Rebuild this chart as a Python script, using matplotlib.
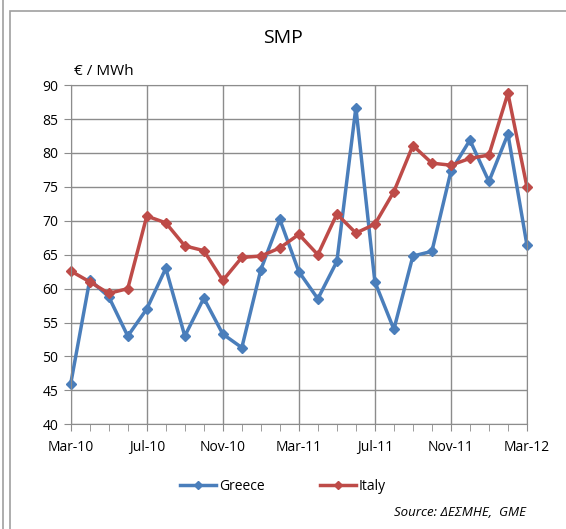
import matplotlib
matplotlib.use('Agg')
import matplotlib.pyplot as plt
from matplotlib.patches import Rectangle
from matplotlib.lines import Line2D

plt.rcParams['font.family'] = ['Open Sans', 'DejaVu Sans']

months = ['Mar-10', 'Apr-10', 'May-10', 'Jun-10', 'Jul-10', 'Aug-10', 'Sep-10', 'Oct-10',
          'Nov-10', 'Dec-10', 'Jan-11', 'Feb-11', 'Mar-11', 'Apr-11', 'May-11', 'Jun-11',
          'Jul-11', 'Aug-11', 'Sep-11', 'Oct-11', 'Nov-11', 'Dec-11', 'Jan-12', 'Feb-12', 'Mar-12']
greece = [46.0, 61.3, 58.8, 53.0, 57.0, 63.0, 53.0, 58.6, 53.3, 51.3, 62.8, 70.2, 62.5,
          58.5, 64.0, 86.7, 61.0, 54.0, 64.8, 65.5, 77.3, 81.9, 75.8, 82.8, 66.4]
italy = [62.6, 61.0, 59.3, 60.0, 70.7, 69.7, 66.3, 65.6, 61.2, 64.6, 64.8, 66.0, 68.0,
         65.0, 71.0, 68.2, 69.5, 74.3, 81.1, 78.5, 78.2, 79.2, 79.7, 88.8, 75.0]

blue = '#4A7EBB'
red = '#BE4B48'

fig = plt.figure(figsize=(5.66, 5.29), dpi=100)
ax = fig.add_axes([0.125, 0.198, 0.806, 0.641])

x = list(range(len(months)))
ax.plot(x, greece, color=blue, lw=2.5, marker='D', ms=5, label='Greece', clip_on=False)
ax.plot(x, italy, color=red, lw=2.5, marker='D', ms=5, label='Italy', clip_on=False)

ax.set_xlim(0, len(months) - 1)
ax.set_ylim(40, 90)
ax.set_yticks(range(40, 91, 5))
ax.set_xticks(x[::4])
ax.set_xticklabels(months[::4])
ax.set_xticks(x, minor=True)
ax.grid(True, color='#8c8c8c', lw=1)
ax.set_axisbelow(True)
for s in ax.spines.values():
    s.set_color('#8c8c8c')
ax.tick_params(axis='both', which='both', color='#8c8c8c', direction='out', labelsize=10, pad=4)
ax.tick_params(axis='x', which='major', length=5, pad=6)
ax.tick_params(axis='x', which='minor', length=5)
ax.tick_params(axis='y', length=5)

fig.text(0.5, 0.928, 'SMP', ha='center', va='center', fontsize=14)
fig.text(0.13, 0.864, '€ / MWh', ha='left', va='center', fontsize=11)

handles = [Line2D([0], [0], color=blue, lw=2.5, marker='D', ms=4),
           Line2D([0], [0], color=red, lw=2.5, marker='D', ms=4)]
fig.legend(handles, ['Greece', 'Italy'], loc='center', bbox_to_anchor=(0.5, 0.08),
           ncol=2, frameon=False, fontsize=10, handlelength=2.6, handletextpad=0.2,
           columnspacing=4)
fig.text(0.93, 0.032, 'Source: ΔΕΣΜΗΕ,  GME', ha='right', va='center', fontsize=9.5,
         style='italic')

# chart frame
fig.patches.append(Rectangle((0.018, -0.02), 1.1, 1.0, transform=fig.transFigure,
                             fill=False, ec='#a0a0a0', lw=1.2))
fig.add_artist(Line2D([0.005, 0.005], [0, 1], transform=fig.transFigure, color='#a0a0a0', lw=1.2))

fig.savefig('out.png', dpi=100)
